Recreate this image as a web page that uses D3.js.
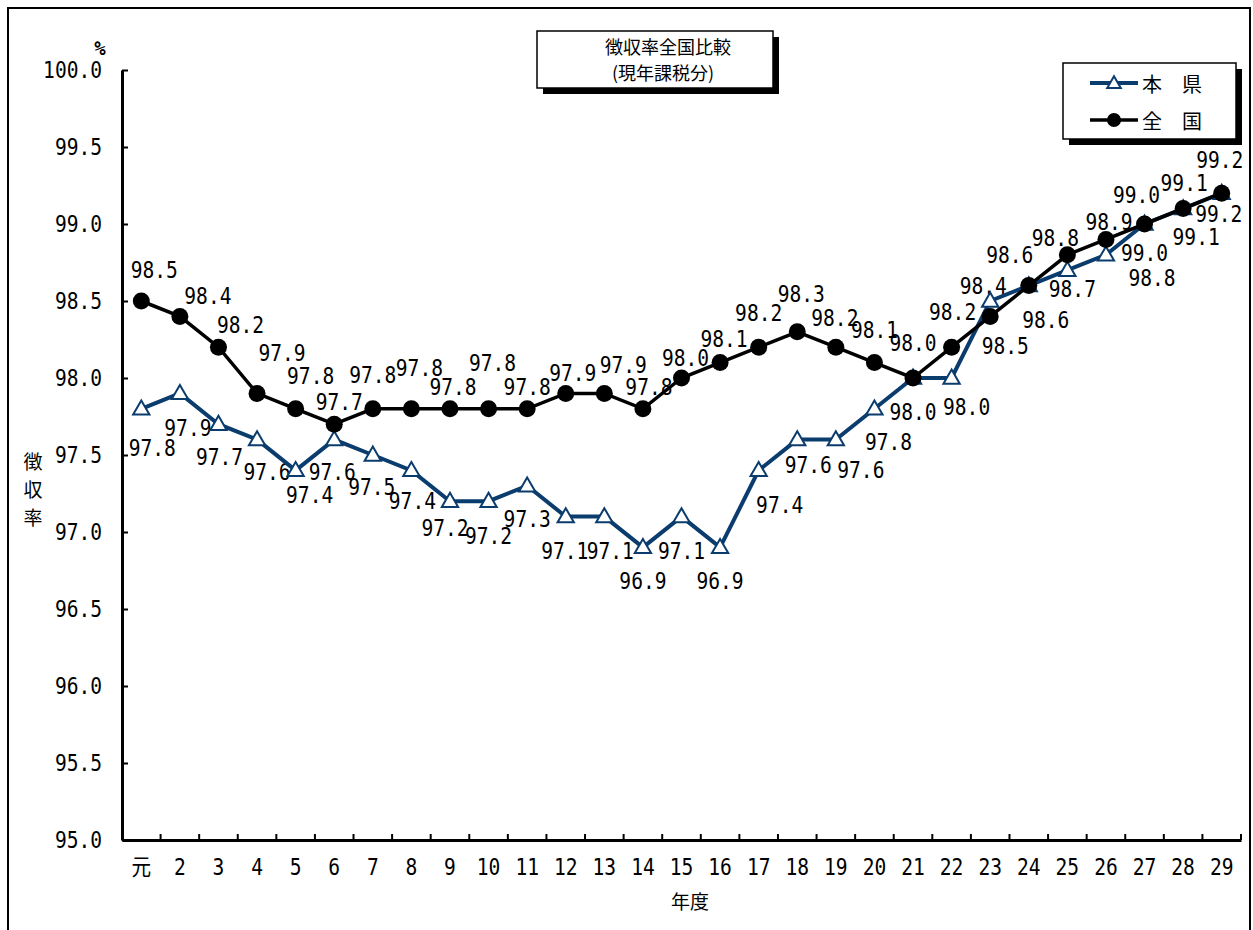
<!DOCTYPE html>
<html>
<head>
<meta charset="utf-8">
<script src="https://cdn.jsdelivr.net/npm/d3@7"></script>
<style>
  body { margin: 0; background: #fff; }
  svg text { font-family: "DejaVu Sans Mono", "Noto Sans CJK JP", monospace; font-size: 22.5px; fill: #000; }
  svg .jp { font-family: "Noto Sans CJK JP", sans-serif; }
</style>
</head>
<body>
<div id="chart"></div>
<script>
var years = ["元", "2", "3", "4", "5", "6", "7", "8", "9", "10", "11", "12", "13", "14", "15",
  "16", "17", "18", "19", "20", "21", "22", "23", "24", "25", "26", "27", "28", "29"];

// 本県
var kenValues = [97.8, 97.9, 97.7, 97.6, 97.4, 97.6, 97.5, 97.4, 97.2, 97.2, 97.3, 97.1, 97.1, 96.9, 97.1,
  96.9, 97.4, 97.6, 97.6, 97.8, 98.0, 98.0, 98.5, 98.6, 98.7, 98.8, 99.0, 99.1, 99.2];

// 全国
var zenValues = [98.5, 98.4, 98.2, 97.9, 97.8, 97.7, 97.8, 97.8, 97.8, 97.8, 97.8, 97.9, 97.9, 97.8, 98.0,
  98.1, 98.2, 98.3, 98.2, 98.1, 98.0, 98.2, 98.4, 98.6, 98.8, 98.9, 99.0, 99.1, 99.2];

var yTicks = [95.0, 95.5, 96.0, 96.5, 97.0, 97.5, 98.0, 98.5, 99.0, 99.5, 100.0];

// label nudges (px) for the data labels, as placed in the original
var kenLabelOffset = [[11, 39], [8, 35], [1, 33], [10, 32], [14, 25], [-2, 32], [-1, 32], [1, 31], [-5, 27],
  [0, 35], [0, 33], [-1, 34], [6, 34], [0, 34], [0, 34], [0, 34], [21, 35], [11, 25], [25, 30], [14, 33],
  [0, 34], [15, 29], [15, 45], [17, 34], [5, 19], [46, 23], [0, 29], [13, 28], [-3, 21]];
var zenLabelOffset = [[13, -31], [28, -20], [22, -22], [25, -40], [15, -33], [5, -22], [0, -34], [8, -41],
  [3, -22], [4, -46], [0, -22], [7, -20], [19, -28], [6, -22], [4, -20], [4, -24], [0, -34], [4, -38],
  [-1, -29], [0, -33], [0, -35], [1, -35], [-7, -30], [-19, -31], [-12, -17], [3, -17], [-8, -29],
  [1, -26], [-2, -33]];

var width = 1253, height = 930;
var margins = { top: 70, right: 12, bottom: 90, left: 122 };
var navy = "#0b3c6e";
var squeeze = 0.87; // narrow, tall digits like the gothic font of the original

var ken = years.map((d, i) => ({ year: d, value: kenValues[i], off: kenLabelOffset[i] }));
var zen = years.map((d, i) => ({ year: d, value: zenValues[i], off: zenLabelOffset[i] }));

var svg = d3.select("#chart").append("svg")
  .attr("width", width)
  .attr("height", height);

// outer frame
svg.append("rect")
  .attr("x", 8).attr("y", 8)
  .attr("width", 1242).attr("height", 950)
  .attr("fill", "none").attr("stroke", "#000").attr("stroke-width", 2);

var x = d3.scaleBand()
  .domain(years)
  .range([margins.left, width - margins.right])
  .padding(0);

var y = d3.scaleLinear()
  .domain([95, 100])
  .range([height - margins.bottom, margins.top]);

var cx = (d) => x(d.year) + x.bandwidth() / 2;

// Y axis
var yAxis = svg.append("g")
  .attr("transform", "translate(" + margins.left + ",0)")
  .call(d3.axisLeft(y).tickValues(yTicks).tickSize(-6).tickSizeOuter(0).tickPadding(20).tickFormat(d3.format(".1f")));
yAxis.select(".domain").attr("stroke-width", 3);
yAxis.selectAll(".tick line").attr("stroke-width", 2);
yAxis.selectAll("text")
  .attr("font-size", null).attr("font-family", null)
  .attr("x", -20 / squeeze)
  .attr("transform", "scale(" + squeeze + ",1)");

// X axis
var xAxis = svg.append("g")
  .attr("transform", "translate(0," + y(95) + ")")
  .call(d3.axisBottom(x).tickSize(0).tickSizeOuter(0).tickPadding(19));
xAxis.select(".domain").attr("stroke-width", 3);
xAxis.selectAll("text")
  .attr("font-size", null).attr("font-family", null)
  .attr("transform", "scale(" + squeeze + ",1)");

// boundary ticks between categories
svg.append("g")
  .selectAll("line")
  .data(years.slice(1).map((d) => x(d)).concat([x.range()[1]]))
  .enter()
  .append("line")
  .attr("x1", (d) => d).attr("x2", (d) => d)
  .attr("y1", y(95)).attr("y2", y(95) - 6)
  .attr("stroke", "#000").attr("stroke-width", 2);

// axis titles
svg.append("text").attr("x", 100).attr("y", 48)
  .attr("text-anchor", "middle").attr("dominant-baseline", "central")
  .style("font-size", "19px").attr("font-weight", "bold").text("%");

svg.append("text").attr("class", "jp")
  .attr("x", 690).attr("y", 900)
  .attr("text-anchor", "middle").attr("dominant-baseline", "central")
  .style("font-size", "19px").text("年度");

var yTitle = svg.append("text").attr("class", "jp")
  .attr("text-anchor", "middle")
  .style("font-size", "19px");
["徴", "収", "率"].forEach(function (c, i) {
  yTitle.append("tspan").attr("x", 33).attr("y", 469 + i * 28).text(c);
});

// data labels (under the lines, like the original)
function addLabels(data) {
  svg.append("g").selectAll("text")
    .data(data).enter().append("text")
    .attr("transform", (d) => "translate(" + (cx(d) + d.off[0]) + "," + (y(d.value) + d.off[1]) + ") scale(" + squeeze + ",1)")
    .attr("text-anchor", "middle").attr("dominant-baseline", "central")
    .text((d) => d3.format(".1f")(d.value));
}
addLabels(ken);
addLabels(zen);

var line = d3.line().x(cx).y((d) => y(d.value));
var tri = d3.symbol().type(d3.symbolTriangle).size(115);

// 本県 line
svg.append("path").datum(ken)
  .attr("d", line)
  .attr("fill", "none").attr("stroke", navy).attr("stroke-width", 4);

svg.append("g").selectAll("path")
  .data(ken).enter().append("path")
  .attr("d", tri)
  .attr("transform", (d) => "translate(" + cx(d) + "," + (y(d.value) + 1) + ")")
  .attr("fill", "#fff").attr("stroke", navy).attr("stroke-width", 2);

// 全国 line
svg.append("path").datum(zen)
  .attr("d", line)
  .attr("fill", "none").attr("stroke", "#000").attr("stroke-width", 3.5);

svg.append("g").selectAll("circle")
  .data(zen).enter().append("circle")
  .attr("cx", cx).attr("cy", (d) => y(d.value))
  .attr("r", 8.5).attr("fill", "#000");

// title box
svg.append("rect").attr("x", 543).attr("y", 37).attr("width", 236).attr("height", 57).attr("fill", "#000");
svg.append("rect").attr("x", 537).attr("y", 31).attr("width", 236).attr("height", 57)
  .attr("fill", "#fff").attr("stroke", "#000").attr("stroke-width", 1.5);
svg.append("text").attr("class", "jp").attr("x", 668).attr("y", 46)
  .attr("text-anchor", "middle").attr("dominant-baseline", "central")
  .style("font-size", "18px").text("徴収率全国比較");
svg.append("text").attr("class", "jp").attr("x", 663).attr("y", 72)
  .attr("text-anchor", "middle").attr("dominant-baseline", "central")
  .style("font-size", "18px").text("(現年課税分)");

// legend
svg.append("rect").attr("x", 1069).attr("y", 69).attr("width", 173).attr("height", 76).attr("fill", "#000");
svg.append("rect").attr("x", 1063).attr("y", 63).attr("width", 173).attr("height", 76)
  .attr("fill", "#fff").attr("stroke", "#000").attr("stroke-width", 1.5);

var legend = [
  { name: "本　県", color: navy, marker: "tri", y: 83 },
  { name: "全　国", color: "#000", marker: "dot", y: 120 }
];
legend.forEach(function (l) {
  svg.append("line").attr("x1", 1090).attr("x2", 1138).attr("y1", l.y).attr("y2", l.y)
    .attr("stroke", l.color).attr("stroke-width", l.marker === "tri" ? 4 : 3.5);
  if (l.marker === "tri") {
    svg.append("path").attr("d", d3.symbol().type(d3.symbolTriangle).size(80))
      .attr("transform", "translate(1114," + (l.y + 1) + ")")
      .attr("fill", "#fff").attr("stroke", navy).attr("stroke-width", 2);
  } else {
    svg.append("circle").attr("cx", 1114).attr("cy", l.y).attr("r", 7).attr("fill", "#000");
  }
  svg.append("text").attr("class", "jp").attr("x", 1142).attr("y", l.y)
    .attr("dominant-baseline", "central")
    .style("font-size", "20px").text(l.name);
});
</script>
</body>
</html>
